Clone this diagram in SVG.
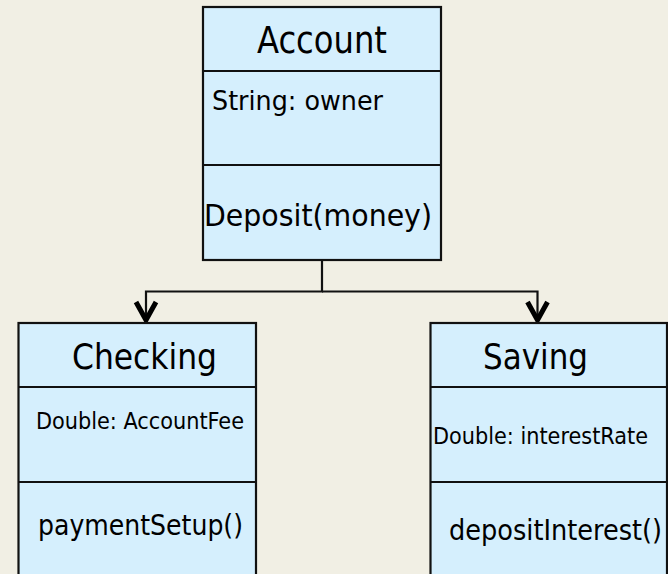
<svg xmlns="http://www.w3.org/2000/svg" width="668" height="574" viewBox="0 0 668 574">
<style>
.box{fill:#D5EFFD;stroke:#111;stroke-width:2.2}
.div{stroke:#111;stroke-width:2.2}
.t{font-family:"DejaVu Sans Condensed","DejaVu Sans",sans-serif;fill:#000}
.conn{fill:none;stroke:#111;stroke-width:2.2}
</style>
<defs>
<marker id="arr" markerUnits="userSpaceOnUse" viewBox="-25 -15 30 30" refX="0" refY="0" markerWidth="30" markerHeight="30" orient="auto" overflow="visible">
<path d="M-19 -10 L-1 0 L-19 10" fill="none" stroke="#000" stroke-width="5" stroke-linejoin="miter"/>
</marker>
</defs>
<rect width="668" height="574" fill="#F1EFE4"/>
<g id="connectors">
<path class="conn" d="M322 260 V291.5 H146 V321" marker-end="url(#arr)"/>
<path class="conn" d="M322 291.5 H537.5 V321" marker-end="url(#arr)"/>
</g>
<g id="account">
<rect class="box" x="203" y="7" width="238" height="253"/>
<line class="div" x1="203" y1="71" x2="441" y2="71"/>
<line class="div" x1="203" y1="165" x2="441" y2="165"/>
<text class="t" x="257" y="53" font-size="37" textLength="130" lengthAdjust="spacingAndGlyphs">Account</text>
<text class="t" x="212" y="110" font-size="26" textLength="171" lengthAdjust="spacingAndGlyphs">String: owner</text>
<text class="t" x="204" y="226" font-size="31" textLength="228" lengthAdjust="spacingAndGlyphs">Deposit(money)</text>
</g>
<g id="checking">
<rect class="box" x="18.5" y="323" width="237.5" height="260"/>
<line class="div" x1="18.5" y1="387" x2="256" y2="387"/>
<line class="div" x1="18.5" y1="482" x2="256" y2="482"/>
<text class="t" x="72" y="369" font-size="36" textLength="145" lengthAdjust="spacingAndGlyphs">Checking</text>
<text class="t" x="36" y="429" font-size="23.5" textLength="208" lengthAdjust="spacingAndGlyphs">Double: AccountFee</text>
<text class="t" x="38" y="535" font-size="29" textLength="205" lengthAdjust="spacingAndGlyphs">paymentSetup()</text>
</g>
<g id="saving">
<rect class="box" x="430.5" y="323" width="236.5" height="260"/>
<line class="div" x1="430.5" y1="387" x2="667" y2="387"/>
<line class="div" x1="430.5" y1="482" x2="667" y2="482"/>
<text class="t" x="483" y="369" font-size="36" textLength="105" lengthAdjust="spacingAndGlyphs">Saving</text>
<text class="t" x="433" y="444" font-size="22.5" textLength="215" lengthAdjust="spacingAndGlyphs">Double: interestRate</text>
<text class="t" x="449" y="540" font-size="29" textLength="213" lengthAdjust="spacingAndGlyphs">depositInterest()</text>
</g>
</svg>
